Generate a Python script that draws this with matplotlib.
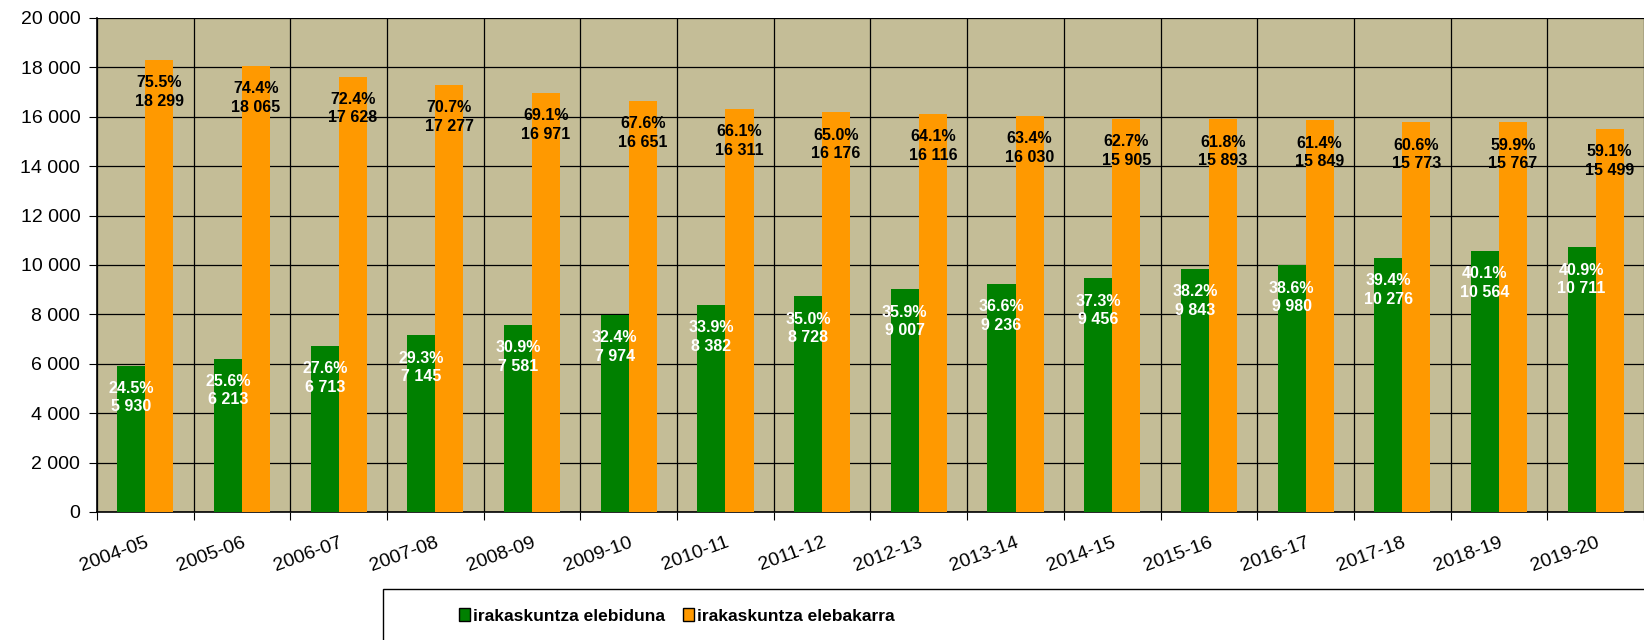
import numpy as np
import matplotlib
matplotlib.use("Agg")
import matplotlib.pyplot as plt
from matplotlib.patches import Rectangle

plt.rcParams['font.family'] = ['Liberation Sans', 'DejaVu Sans']

years = ['2004-05', '2005-06', '2006-07', '2007-08', '2008-09', '2009-10', '2010-11', '2011-12',
         '2012-13', '2013-14', '2014-15', '2015-16', '2016-17', '2017-18', '2018-19', '2019-20']
elebiduna = [5930, 6213, 6713, 7145, 7581, 7974, 8382, 8728, 9007, 9236, 9456, 9843, 9980, 10276, 10564, 10711]
elebiduna_pct = [24.5, 25.6, 27.6, 29.3, 30.9, 32.4, 33.9, 35.0, 35.9, 36.6, 37.3, 38.2, 38.6, 39.4, 40.1, 40.9]
elebakarra = [18299, 18065, 17628, 17277, 16971, 16651, 16311, 16176, 16116, 16030, 15905, 15893, 15849, 15773, 15767, 15499]
elebakarra_pct = [75.5, 74.4, 72.4, 70.7, 69.1, 67.6, 66.1, 65.0, 64.1, 63.4, 62.7, 61.8, 61.4, 60.6, 59.9, 59.1]

green = '#008000'
orange = '#FF9900'
bg = '#C4BD97'

def fmt(v):
    return f'{v:,}'.replace(',', ' ')

fig = plt.figure(figsize=(16.44, 6.4), dpi=100)
ax = fig.add_axes([0.059, 0.2, 0.941, 0.772])
ax.set_facecolor(bg)

x = np.arange(len(years))
w = 0.29
b1 = ax.bar(x - w / 2, elebiduna, w, color=green, label='irakaskuntza elebiduna', zorder=3)
b2 = ax.bar(x + w / 2, elebakarra, w, color=orange, label='irakaskuntza elebakarra', zorder=3)

for xi, v, p in zip(x, elebiduna, elebiduna_pct):
    ax.annotate(f'{p:.1f}%\n{fmt(v)}', (xi - w / 2, v), xytext=(0, -11), textcoords='offset points',
                ha='center', va='top', color='white', fontsize=11.5, fontweight='bold', zorder=4,
                linespacing=1.3)
for xi, v, p in zip(x, elebakarra, elebakarra_pct):
    ax.annotate(f'{p:.1f}%\n{fmt(v)}', (xi + w / 2, v), xytext=(0, -11), textcoords='offset points',
                ha='center', va='top', color='black', fontsize=11.5, fontweight='bold', zorder=4,
                linespacing=1.3)

ax.set_xlim(-0.5, len(years) - 0.5)
ax.set_ylim(0, 20000)
ax.set_yticks(np.arange(0, 20001, 2000))
ax.set_yticklabels([fmt(v) for v in range(0, 20001, 2000)], fontsize=14)

# vertical grid at category boundaries
ax.set_xticks(np.arange(-0.5, len(years), 1.0))
ax.set_xticklabels([])
ax.set_xticks(x, minor=True)
ax.set_xticklabels(years, minor=True, rotation=20, ha='right', rotation_mode='anchor', fontsize=14)
ax.tick_params(axis='x', which='minor', length=0, pad=16)
ax.tick_params(axis='x', which='major', length=6, direction='out')
ax.tick_params(axis='y', length=6, direction='out', pad=6)
ax.grid(True, which='major', color='black', linewidth=0.9, zorder=1)
ax.set_axisbelow(True)
for s in ['top', 'right']:
    ax.spines[s].set_visible(False)
ax.spines['left'].set_linewidth(1.2)
ax.spines['bottom'].set_linewidth(1.2)

# legend box
fig.patches.append(Rectangle((383 / 1644, -0.05), 1.0, 1 - 589 / 640 + 0.05, transform=fig.transFigure,
                             facecolor='white', edgecolor='black', linewidth=1.0))
leg = fig.legend(handles=[b1, b2], loc='center', bbox_to_anchor=(677 / 1644, 1 - 616 / 640),
                 ncol=2, frameon=False, columnspacing=1.05, handlelength=0.6, handleheight=0.8,
                 handletextpad=0.2, prop={'size': 12.5, 'weight': 'bold'})
for h in leg.legend_handles:
    h.set_edgecolor('black')
    h.set_linewidth(1.0)

fig.savefig('out.png', dpi=100)
